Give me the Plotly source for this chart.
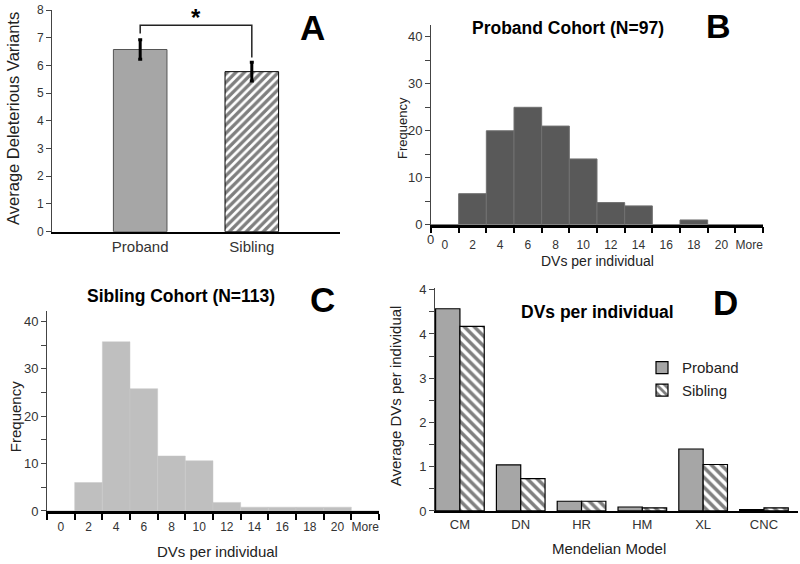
import plotly.graph_objects as go

# ---------------- data ----------------
# Panel A
groups_a = ["Proband", "Sibling"]
avg_dv_a = [6.58, 5.78]
err_a = [0.35, 0.34]
bracket_top = 7.46
bracket_legs = [7.16, 6.29]

# Panels B / C (histograms)
bins = ["0", "2", "4", "6", "8", "10", "12", "14", "16", "18", "20", "More"]
proband_freq = [0, 6.6, 20, 25, 21, 14, 4.7, 4, 0, 1, 0, 0]
sibling_freq = [0, 6, 35.7, 25.8, 11.6, 10.6, 1.8, 0.8, 0.8, 0.8, 0.8, 0]

# Panel D
models = ["CM", "DN", "HR", "HM", "XL", "CNC"]
proband_d = [4.57, 1.04, 0.22, 0.09, 1.40, 0.03]
sibling_d = [4.17, 0.73, 0.22, 0.07, 1.05, 0.07]
d_tickvals = [0, 1, 2, 3, 4, 5]
d_ticktext = ["0", "1", "2", "3", "4", "4"]

W, H = 800, 564
FONT = "Liberation Sans, Arial, sans-serif"
TICKC = "#333333"


def px(x):
    return x / W


def py(y):
    yp = (y - 6.8) / 0.9758
    return 1 - yp / H


fig = go.Figure()

# ---- Panel A ----
fig.add_trace(go.Bar(
    x=[groups_a[0]], y=[avg_dv_a[0]], width=0.48,
    marker=dict(color="#A6A6A6", line=dict(color="#555555", width=1)),
    error_y=dict(type="data", array=[err_a[0]], color="black", thickness=3, width=2),
    xaxis="x", yaxis="y", showlegend=False))
fig.add_trace(go.Bar(
    x=[groups_a[1]], y=[avg_dv_a[1]], width=0.48,
    marker=dict(color="white", line=dict(color="black", width=1),
                pattern=dict(shape="/", fgcolor="black", bgcolor="white", size=6, solidity=0.55)),
    error_y=dict(type="data", array=[err_a[1]], color="black", thickness=3, width=2),
    xaxis="x", yaxis="y", showlegend=False))

# significance bracket
fig.add_trace(go.Scatter(
    x=[groups_a[0], groups_a[0], groups_a[1], groups_a[1]],
    y=[bracket_legs[0], bracket_top, bracket_top, bracket_legs[1]],
    mode="lines", line=dict(color="#222222", width=1.5),
    xaxis="x", yaxis="y", showlegend=False, hoverinfo="skip"))

# ---- Panel B ----
fig.add_trace(go.Bar(
    x=bins, y=proband_freq, width=1,
    marker=dict(color="#595959", line=dict(color="#707070", width=1)),
    xaxis="x2", yaxis="y2", showlegend=False))

# ---- Panel C ----
fig.add_trace(go.Bar(
    x=bins, y=sibling_freq, width=1,
    marker=dict(color="#BFBFBF", line=dict(color="#C8C8C8", width=0.5)),
    xaxis="x3", yaxis="y3", showlegend=False))

# ---- Panel D ----
fig.add_trace(go.Bar(
    name="Proband", x=models, y=proband_d,
    marker=dict(color="#A6A6A6", line=dict(color="black", width=1.2)),
    xaxis="x4", yaxis="y4", showlegend=True))
fig.add_trace(go.Bar(
    name="Sibling", x=models, y=sibling_d,
    marker=dict(color="white", line=dict(color="black", width=1.2),
                pattern=dict(shape="\\", fgcolor="black", bgcolor="white", size=7, solidity=0.5)),
    xaxis="x4", yaxis="y4", showlegend=True))

tickfont = dict(family=FONT, size=13, color=TICKC)
histfont = dict(family=FONT, size=12, color=TICKC)

fig.update_layout(
    width=W, height=H,
    margin=dict(l=0, r=0, t=0, b=0),
    paper_bgcolor="white", plot_bgcolor="white",
    font=dict(family=FONT, color="#222222"),
    barmode="group", bargap=0.2, bargroupgap=0,
    legend=dict(x=px(642), y=py(352), xanchor="left", yanchor="top",
                font=dict(family=FONT, size=15, color="#222222"),
                bgcolor="rgba(0,0,0,0)", tracegroupgap=0),
    # A
    xaxis=dict(domain=[px(52), px(340)], type="category", range=[-0.79, 1.79],
               showline=True, linecolor="black", linewidth=2, ticks="",
               tickfont=dict(family=FONT, size=15, color=TICKC), showgrid=False,
               fixedrange=True),
    yaxis=dict(domain=[py(232), py(10)], range=[0, 8], dtick=1,
               showline=True, linecolor="#444444", linewidth=1, ticks="outside",
               ticklen=5, tickcolor="#444444", showgrid=False, zeroline=False,
               tickfont=dict(family=FONT, size=12, color=TICKC), anchor="x"),
    # B
    xaxis2=dict(domain=[px(431), px(763)], type="category", range=[-0.5, 11.5],
                categoryorder="array", categoryarray=bins, anchor="y2",
                showline=True, linecolor="black", linewidth=2.5, ticks="outside",
                tickson="boundaries", ticklen=6, tickcolor="black", tickwidth=1.5,
                showgrid=False, tickfont=histfont, tickangle=0, ticklabelstandoff=7),
    yaxis2=dict(domain=[py(225), py(25)], range=[0, 42.5], tickvals=[0, 10, 20, 30, 40],
                showline=True, linecolor="#444444", linewidth=1, ticks="outside",
                ticklen=5, tickcolor="#444444", showgrid=False, zeroline=False,
                minor=dict(dtick=5, ticks="outside", ticklen=5, tickcolor="#444444", showgrid=False),
                tickfont=tickfont, anchor="x2"),
    # C
    xaxis3=dict(domain=[px(47), px(379)], type="category", range=[-0.5, 11.5],
                categoryorder="array", categoryarray=bins, anchor="y3",
                showline=True, linecolor="black", linewidth=2.5, ticks="outside",
                tickson="boundaries", ticklen=6, tickcolor="black", tickwidth=1.5,
                showgrid=False, tickfont=histfont, tickangle=0, ticklabelstandoff=3),
    yaxis3=dict(domain=[py(512), py(312)], range=[0, 42.1], tickvals=[0, 10, 20, 30, 40],
                showline=True, linecolor="#444444", linewidth=1, ticks="outside",
                ticklen=5, tickcolor="#444444", showgrid=False, zeroline=False,
                minor=dict(dtick=5, ticks="outside", ticklen=5, tickcolor="#444444", showgrid=False),
                tickfont=tickfont, anchor="x3"),
    # D
    xaxis4=dict(domain=[px(435), px(798)], type="category", range=[-0.41, 5.56],
                anchor="y4", showline=True, linecolor="black", linewidth=2, ticks="",
                showgrid=False, tickfont=tickfont),
    yaxis4=dict(domain=[py(512), py(288)], range=[0, 5.05], tickvals=d_tickvals,
                ticktext=d_ticktext,
                showline=True, linecolor="#444444", linewidth=1, ticks="outside",
                ticklen=5, tickcolor="#444444", showgrid=False, zeroline=False,
                minor=dict(dtick=0.5, ticks="outside", ticklen=5, tickcolor="#444444", showgrid=False),
                tickfont=tickfont, anchor="x4"),
)

annotations = []


def txt(x, y, text, size, bold=False, angle=0, color="#222222"):
    annotations.append(dict(
        x=px(x), y=py(y), xref="paper", yref="paper", showarrow=False,
        text=f"<b>{text}</b>" if bold else text, textangle=angle,
        xanchor="center", yanchor="middle",
        font=dict(family=FONT, size=size, color=color)))


# star above bracket
annotations.append(dict(x=0.5, y=7.72, xref="x", yref="y", text="<b>*</b>", showarrow=False,
                        font=dict(family=FONT, size=24, color="black"),
                        xanchor="center", yanchor="middle"))

# panel letters
txt(312, 27, "A", 35, bold=True, color="black")
txt(718, 26, "B", 34, bold=True, color="black")
txt(322, 300, "C", 35, bold=True, color="black")
txt(725, 303, "D", 35, bold=True, color="black")

# titles
txt(568, 28, "Proband Cohort (N=97)", 17.5, bold=True, color="black")
txt(181, 297, "Sibling Cohort (N=113)", 17.5, bold=True, color="black")
txt(597, 313, "DVs per individual", 17.5, bold=True, color="black")

# axis titles
txt(13, 119, "Average Deleterious Variants", 16.5, angle=-90)
txt(403, 128, "Frequency", 13, angle=-90)
txt(597, 261, "DVs per individual", 14)
txt(15, 418, "Frequency", 15, angle=-90)
txt(217, 553, "DVs per individual", 15)
txt(395, 397, "Average DVs per individual", 15, angle=-90)
txt(609, 550, "Mendelian Model", 15)

# stray "0" label at B origin
txt(430, 240, "0", 13, color=TICKC)

fig.update_layout(annotations=annotations)

fig.write_html(
    "out.html",
    config={"displayModeBar": False},
    post_script=(
        "document.documentElement.style.margin='0';"
        "document.body.style.margin='0';"
        "document.body.style.padding='0';"
    ),
)
